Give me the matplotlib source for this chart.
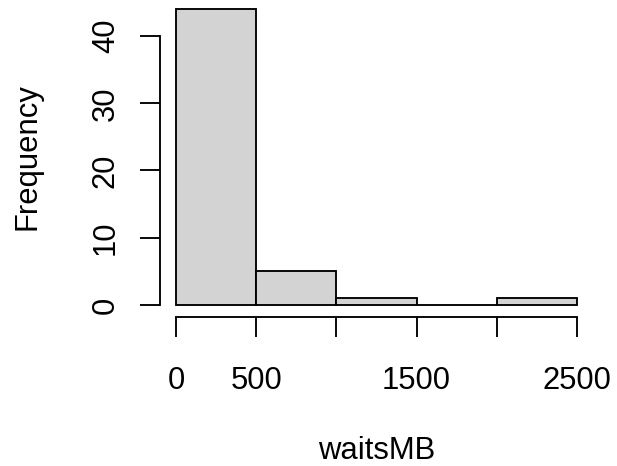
import matplotlib
matplotlib.use("Agg")
import matplotlib.pyplot as plt
import numpy as np

bin_edges = [0, 500, 1000, 1500, 2000, 2500]
counts = [44, 5, 1, 0, 1]
x_ticks = [0, 500, 1000, 1500, 2000, 2500]
x_tick_labels = ["0", "500", "", "1500", "", "2500"]
y_ticks = [0, 10, 20, 30, 40]
x_label = "waitsMB"
y_label = "Frequency"

plt.rcParams['font.family'] = ['Liberation Sans', 'DejaVu Sans']
FS = 22.3
LW = 1.35
TICKLEN = 14.5

W, H = 617, 466
fig = plt.figure(figsize=(W/100, H/100), dpi=100)
left_px, right_px, bottom_px, top_px = 160, 593, 316.8, -2.7
ax = fig.add_axes([left_px/W, (H-bottom_px)/H, (right_px-left_px)/W, (bottom_px-top_px)/H])

lefts = np.array(bin_edges[:-1])
widths = np.diff(bin_edges)
ax.bar(lefts, counts, width=widths, align='edge', color='#D3D3D3', edgecolor='black', linewidth=LW)

ax.set_xlim(-100, 2600)
ax.set_ylim(-0.04*44, 44*1.04)

for s in ['top', 'right']:
    ax.spines[s].set_visible(False)
ax.spines['left'].set_bounds(0, 40)
ax.spines['bottom'].set_bounds(0, 2500)
ax.spines['left'].set_linewidth(LW)
ax.spines['bottom'].set_linewidth(LW)

ax.set_xticks(x_ticks)
ax.set_xticklabels(x_tick_labels, fontsize=FS, va='baseline')
ax.set_yticks(y_ticks)
ax.set_yticklabels([str(v) for v in y_ticks], fontsize=FS, rotation=90,
                   rotation_mode='anchor', ha='center', va='baseline')
ax.tick_params(axis='both', length=TICKLEN, width=LW, direction='out', color='black')
ax.tick_params(axis='x', pad=37.4)
ax.tick_params(axis='y', pad=18.7)

ax.set_xlabel(x_label, fontsize=FS, va='baseline')
ax.set_ylabel(y_label, fontsize=FS, va='baseline', rotation_mode='anchor')
ax.xaxis.set_label_coords(0.5, -0.446)
ax.yaxis.set_label_coords(-0.2864, 0.5)

fig.savefig("out.png", dpi=100)
